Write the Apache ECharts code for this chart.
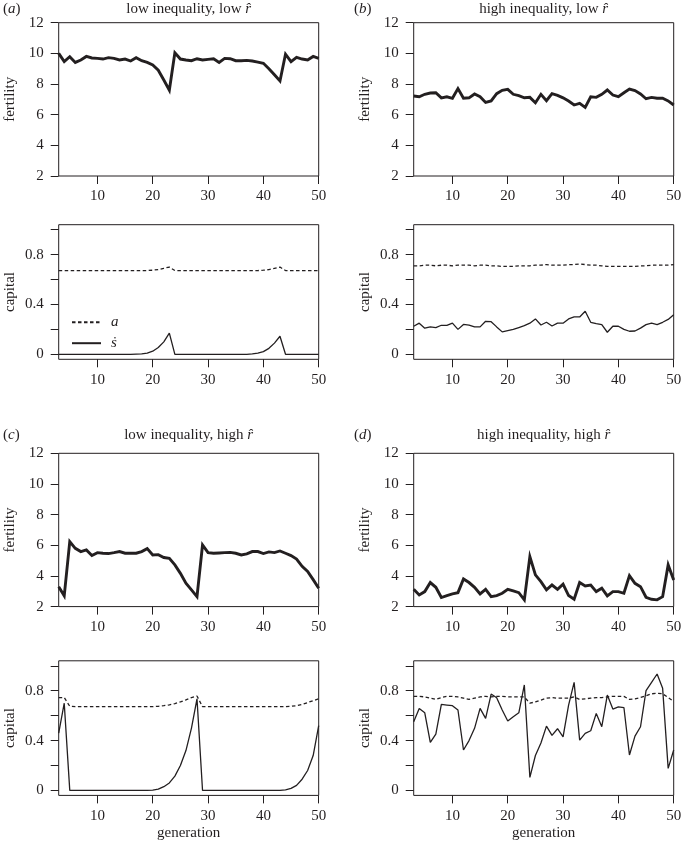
<!DOCTYPE html>
<html>
<head>
<meta charset="utf-8">
<script src="https://cdn.jsdelivr.net/npm/echarts@6/dist/echarts.min.js"></script>
<style>
html,body{margin:0;padding:0;background:#fff;}
#chart{width:682px;height:842px;}
</style>
</head>
<body>
<div id="chart"></div>
<script>
// ---------- data ----------
const generations = [3,4,5,6,7,8,9,10,11,12,13,14,15,16,17,18,19,20,21,22,23,24,25,26,27,28,29,30,31,32,33,34,35,36,37,38,39,40,41,42,43,44,45,46,47,48,49,50];
const xTicks = [10,20,30,40,50];
const fertTicks = [2,4,6,8,10,12];
const capTicks = [0,0.2,0.4,0.6,0.8,1.0];
const capLabels = [0,0.4,0.8];

const panelLetters = ['a','b','c','d'];
const panelTitles = ['low inequality, low ', 'high inequality, low ', 'low inequality, high ', 'high inequality, high '];
const seriesNames = ['a', '\u1E61'];

// (a) low inequality, low r
const fertA = [10.0,9.46,9.78,9.41,9.57,9.8,9.7,9.67,9.63,9.72,
  9.67,9.57,9.63,9.5,9.72,9.52,9.41,9.24,8.9,8.26,
  7.6,10.04,9.63,9.57,9.52,9.65,9.57,9.61,9.65,9.41,
  9.67,9.65,9.52,9.52,9.54,9.5,9.43,9.35,9.0,8.6,
  8.2,9.95,9.46,9.74,9.63,9.57,9.8,9.67];
const capAa = [0.672,0.672,0.672,0.672,0.672,0.672,0.672,0.672,0.672,0.672,
  0.672,0.672,0.672,0.672,0.672,0.672,0.672,0.675,0.68,0.69,
  0.70,0.672,0.672,0.672,0.672,0.672,0.672,0.672,0.672,0.672,
  0.672,0.672,0.672,0.672,0.672,0.672,0.672,0.675,0.68,0.69,
  0.70,0.672,0.672,0.672,0.672,0.672,0.672,0.672];
const capAs = [0,0,0,0,0,0,0,0,0,0,
  0,0,0,0,0.002,0.004,0.01,0.025,0.055,0.1,
  0.17,0,0,0,0,0,0,0,0,0,
  0,0,0,0,0,0.004,0.01,0.022,0.048,0.09,
  0.145,0,0,0,0,0,0,0];

// (b) high inequality, low r
const fertB = [7.22,7.17,7.33,7.41,7.43,7.1,7.17,7.07,7.7,7.07,
  7.1,7.35,7.17,6.8,6.9,7.37,7.59,7.65,7.33,7.24,
  7.1,7.13,6.78,7.33,6.91,7.37,7.26,7.1,6.89,6.63,
  6.74,6.48,7.17,7.13,7.33,7.61,7.28,7.17,7.43,7.67,
  7.57,7.35,7.04,7.13,7.07,7.07,6.9,6.63];
const capBa = [0.71,0.71,0.715,0.715,0.71,0.715,0.715,0.71,0.715,0.715,
  0.715,0.71,0.715,0.715,0.71,0.71,0.705,0.705,0.705,0.71,
  0.71,0.71,0.715,0.715,0.72,0.715,0.715,0.715,0.72,0.72,
  0.725,0.72,0.715,0.715,0.71,0.705,0.705,0.705,0.705,0.705,
  0.705,0.71,0.71,0.715,0.715,0.715,0.715,0.72];
const capBs = [0.225,0.25,0.21,0.22,0.214,0.233,0.233,0.25,0.2,0.24,
  0.235,0.22,0.22,0.265,0.262,0.22,0.18,0.19,0.2,0.215,
  0.23,0.25,0.284,0.235,0.257,0.227,0.25,0.25,0.284,0.3,
  0.3,0.345,0.257,0.246,0.238,0.177,0.225,0.225,0.2,0.185,
  0.187,0.21,0.238,0.25,0.238,0.257,0.28,0.318];

// (c) low inequality, high r
const fertC = [3.3,2.7,6.24,5.8,5.59,5.7,5.33,5.52,5.48,5.46,
  5.52,5.59,5.48,5.48,5.48,5.59,5.78,5.37,5.39,5.2,
  5.15,4.72,4.17,3.52,3.09,2.65,6.02,5.52,5.48,5.5,
  5.52,5.54,5.48,5.37,5.44,5.59,5.59,5.46,5.57,5.52,
  5.63,5.48,5.33,5.1,4.63,4.3,3.76,3.2];
const capCa = [0.745,0.745,0.675,0.672,0.672,0.672,0.672,0.672,0.672,0.672,
  0.672,0.672,0.672,0.672,0.672,0.672,0.672,0.672,0.675,0.68,
  0.687,0.697,0.71,0.727,0.745,0.757,0.672,0.672,0.672,0.672,
  0.672,0.672,0.672,0.672,0.672,0.672,0.672,0.672,0.672,0.672,
  0.672,0.672,0.675,0.68,0.69,0.705,0.72,0.735];
const capCs = [0.46,0.70,0,0,0,0,0,0,0,0,
  0,0,0,0,0,0,0,0.003,0.01,0.03,
  0.06,0.115,0.2,0.32,0.5,0.735,0,0,0,0,
  0,0,0,0,0,0,0,0,0,0,
  0,0.005,0.016,0.04,0.09,0.16,0.28,0.52];

// (d) high inequality, high r
const fertD = [3.13,2.76,2.98,3.57,3.26,2.59,2.72,2.83,2.91,3.8,
  3.57,3.26,2.83,3.13,2.65,2.72,2.87,3.13,3.02,2.91,
  2.44,5.26,4.07,3.63,3.09,3.41,3.13,3.46,2.72,2.48,
  3.57,3.35,3.41,2.98,3.2,2.70,2.98,2.98,2.87,4.02,
  3.52,3.3,2.61,2.48,2.44,2.65,4.72,3.74];
const capDa = [0.755,0.755,0.75,0.74,0.73,0.745,0.755,0.755,0.75,0.74,
  0.73,0.74,0.75,0.755,0.75,0.755,0.755,0.75,0.75,0.75,
  0.75,0.70,0.71,0.725,0.74,0.745,0.74,0.74,0.74,0.75,
  0.73,0.735,0.74,0.745,0.745,0.75,0.755,0.755,0.755,0.73,
  0.735,0.745,0.76,0.775,0.78,0.775,0.745,0.715];
const capDs = [0.551,0.658,0.623,0.385,0.452,0.69,0.685,0.68,0.645,0.324,
  0.4,0.498,0.658,0.578,0.773,0.744,0.645,0.557,0.591,0.623,
  0.846,0.104,0.28,0.38,0.516,0.442,0.495,0.43,0.685,0.867,
  0.404,0.458,0.479,0.618,0.511,0.765,0.653,0.67,0.665,0.284,
  0.436,0.511,0.8,0.867,0.934,0.819,0.177,0.324];

const fertility = [fertA, fertB, fertC, fertD];
const capitalA = [capAa, capBa, capCa, capDa];
const capitalS = [capAs, capBs, capCs, capDs];

// ---------- layout / style ----------
const FONT = 'Liberation Serif';
const FS = 15;
const INK = '#231f20';
const lefts = [58.7, 413.7, 58.7, 413.7];
const topsF = [22.7, 22.7, 453.3, 453.3];
const topsC = [224.7, 224.7, 660.8, 660.8];
const titleY = [8.7, 8.7, 435, 435];
const W = 260, HF = 153.3, HC = 134.6;

const pair = ys => generations.map((g, i) => [g, ys[i]]);

const grids = [], xAxes = [], yAxes = [], series = [], graphics = [];
const labelStyle = {fontFamily: FONT, fontSize: FS, color: INK};
const nameStyle = {fontFamily: FONT, fontSize: FS, color: INK};

function addX(gi, withName) {
  xAxes.push({
    type: 'value', gridIndex: gi, min: 3, max: 50,
    axisLine: {show: false, onZero: false},
    axisTick: {show: true, customValues: xTicks, length: 8, lineStyle: {color: INK, width: 1}},
    axisLabel: Object.assign({customValues: xTicks, margin: 13}, labelStyle),
    splitLine: {show: false},
    name: withName ? 'generation' : '',
    nameLocation: 'middle', nameGap: 30,
    nameTextStyle: nameStyle
  });
}

for (let p = 0; p < 4; p++) {
  const gF = p * 2, gC = p * 2 + 1;
  grids.push({left: lefts[p], top: topsF[p], width: W, height: HF, show: true,
    borderColor: INK, borderWidth: 1, backgroundColor: 'transparent', containLabel: false, outerBoundsMode: 'none'});
  grids.push({left: lefts[p], top: topsC[p], width: W, height: HC, show: true,
    borderColor: INK, borderWidth: 1, backgroundColor: 'transparent', containLabel: false, outerBoundsMode: 'none'});
  addX(gF, false);
  addX(gC, p >= 2);
  yAxes.push({
    type: 'value', gridIndex: gF, min: 2, max: 12, interval: 2,
    axisLine: {show: false, onZero: false},
    axisTick: {show: true, length: 8, lineStyle: {color: INK, width: 1}},
    axisLabel: Object.assign({margin: 15}, labelStyle),
    splitLine: {show: false},
    name: 'fertility', nameLocation: 'middle', nameGap: 41,
    nameTextStyle: nameStyle
  });
  yAxes.push({
    type: 'value', gridIndex: gC, min: -0.04, max: 1.04,
    axisLine: {show: false, onZero: false},
    axisTick: {show: true, customValues: capTicks, length: 8, lineStyle: {color: INK, width: 1}},
    axisLabel: Object.assign({customValues: capLabels, margin: 15}, labelStyle),
    splitLine: {show: false},
    name: 'capital', nameLocation: 'middle', nameGap: 41,
    nameTextStyle: nameStyle
  });
  series.push({
    type: 'line', name: 'fertility', xAxisIndex: gF, yAxisIndex: gF,
    data: pair(fertility[p]), symbol: 'none', showSymbol: false, silent: true,
    lineStyle: {color: INK, width: 2.9, join: 'miter'}, itemStyle: {color: INK}
  });
  series.push({
    type: 'line', name: seriesNames[0], xAxisIndex: gC, yAxisIndex: gC,
    data: pair(capitalA[p]), symbol: 'none', showSymbol: false, silent: true,
    lineStyle: {color: INK, width: 1.3, type: [3.5, 2.5]}, itemStyle: {color: INK}
  });
  series.push({
    type: 'line', name: seriesNames[1], xAxisIndex: gC, yAxisIndex: gC,
    data: pair(capitalS[p]), symbol: 'none', showSymbol: false, silent: true,
    lineStyle: {color: INK, width: 1.3}, itemStyle: {color: INK}
  });

  const letterX = p % 2 === 0 ? 3 : 354;
  graphics.push({
    type: 'text', x: letterX, y: titleY[p],
    style: {text: '({i|' + panelLetters[p] + '})', font: FS + 'px "' + FONT + '"', fill: INK,
      verticalAlign: 'middle', align: 'left',
      rich: {i: {fontStyle: 'italic', fontFamily: FONT, fontSize: FS, fill: INK}}}
  });
  graphics.push({
    type: 'text', x: lefts[p] + W / 2, y: titleY[p],
    style: {text: panelTitles[p] + '{i|r\u0302}', font: FS + 'px "' + FONT + '"', fill: INK,
      verticalAlign: 'middle', align: 'center',
      rich: {i: {fontStyle: 'italic', fontFamily: FONT, fontSize: FS, fill: INK}}}
  });
}

const chart = echarts.init(document.getElementById('chart'), null, {renderer: 'canvas'});
chart.setOption({
  animation: false,
  backgroundColor: '#fff',
  textStyle: {fontFamily: FONT},
  grid: grids,
  xAxis: xAxes,
  yAxis: yAxes,
  series: series,
  graphic: graphics,
  legend: {
    data: seriesNames.map(n => ({name: n, itemStyle: {opacity: 0}})),
    orient: 'vertical', left: 71, top: 314.7,
    itemWidth: 29, itemHeight: 14, itemGap: 6,
    padding: 0,
    selectedMode: false,
    itemStyle: {opacity: 0, borderWidth: 0},
    textStyle: {fontFamily: FONT, fontSize: FS, fontStyle: 'italic', color: INK, padding: [0, 0, 0, 5]}
  }
});
</script>
</body>
</html>
